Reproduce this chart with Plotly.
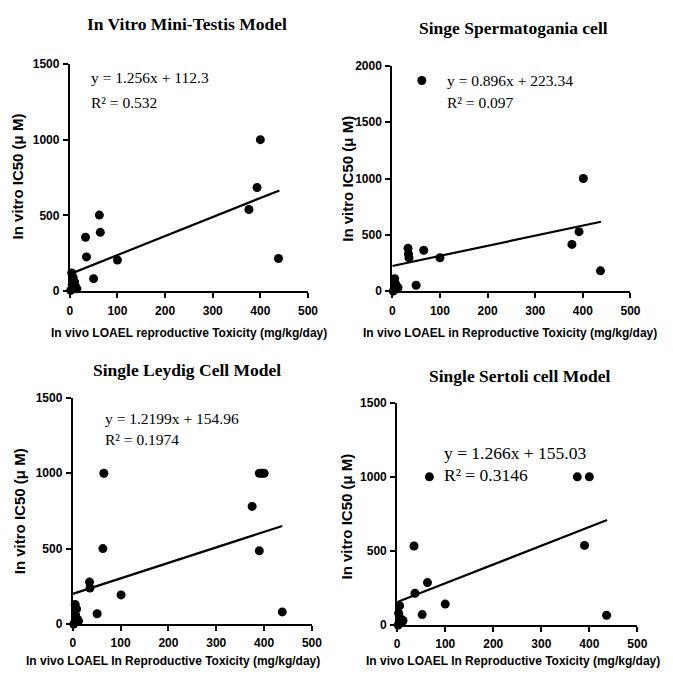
import plotly.graph_objects as go

# the page body has an 8px margin on every side; keep the figure inside the window
OFF = 8
W, H = 673 - 2 * OFF, 686 - 2 * OFF

# ---------------- data ----------------
titles = ["In Vitro Mini-Testis Model", "Singe Spermatogania cell",
          "Single Leydig Cell Model", "Single Sertoli cell Model"]
x_titles = ["In vivo LOAEL reproductive Toxicity (mg/kg/day)",
            "In vivo LOAEL in Reproductive Toxicity (mg/kg/day)",
            "In vivo LOAEL In Reproductive Toxicity (mg/kg/day)",
            "In vivo LOAEL In Reproductive Toxicity (mg/kg/day)"]
y_title = "In vitro IC50 (\u03bc M)"

mt_x = [2, 5, 7, 4, 12, 15, 10, 33, 35, 62, 64, 50, 100, 376, 393, 400, 438]
mt_y = [5, 40, 90, 120, 30, 15, 60, 356, 226, 502, 388, 82, 205, 539, 684, 1000, 215]

sp_x = [2, 5, 8, 10, 12, 6, 33, 34, 35, 66, 100, 50, 62, 377, 392, 401, 437]
sp_y = [0, 110, 50, 20, 30, 70, 380, 330, 295, 363, 296, 52, 1870, 415, 528, 1000, 180]

ley_x = [2, 5, 8, 10, 12, 6, 65, 63, 35, 36, 101, 51, 375, 390, 390, 395, 400, 438]
ley_y = [0, 130, 100, 30, 20, 60, 1000, 500, 278, 239, 193, 68, 780, 485, 1000, 1000, 1000, 80]

ser_x = [2, 5, 3, 8, 10, 12, 67, 375, 400, 35, 63, 37, 100, 52, 390, 436]
ser_y = [0, 130, 80, 40, 20, 30, 1000, 1000, 1000, 533, 286, 214, 141, 70, 537, 66]

trend_x = [[0, 440], [0, 438], [0, 438], [0, 437]]
trend_y = [[112.3, 665], [223.3, 616], [200, 650], [155.0, 708]]

eq_text = ["y = 1.256x + 112.3", "y = 0.896x + 223.34",
           "y = 1.2199x + 154.96", "y = 1.266x + 155.03"]
r2_text = ["R\u00b2 = 0.532", "R\u00b2 = 0.097", "R\u00b2 = 0.1974", "R\u00b2 = 0.3146"]

x_ticks = [0, 100, 200, 300, 400, 500]
y_ticks = [[0, 500, 1000, 1500], [0, 500, 1000, 1500, 2000],
           [0, 500, 1000, 1500], [0, 500, 1000, 1500]]
y_max = [1500, 2000, 1500, 1500]

series = [(mt_x, mt_y), (sp_x, sp_y), (ley_x, ley_y), (ser_x, ser_y)]

# ---------------- layout (pixel boxes in window coordinates) ----------------
boxes = [(68, 311, 58, 290), (397, 640, 60, 290), (71, 315, 399, 630), (402, 647, 404, 631)]
title_pos = [(188, 17), (521, 21), (188, 371), (527, 377)]
xt_pos = [(190, 333), (517, 333), (173, 668), (520, 668)]
yt_pos = [(15, 173), (351, 175), (17, 515), (350, 520)]
eq_pos = [(88, 72), (451, 75), (102, 420), (448, 455)]
r2_pos = [(88, 97), (451, 97), (102, 442), (448, 478)]
eq_size = [15.5, 15.5, 15.5, 17.5]


def fx(p):
    return (p - OFF) / W


def fy(p):
    return 1 - (p - OFF) / H


fig = go.Figure()
ann = []
for i in range(4):
    sx = "" if i == 0 else str(i + 1)
    xa, ya = "x" + sx, "y" + sx
    xs, ys = series[i]
    fig.add_trace(go.Scatter(x=trend_x[i], y=trend_y[i], mode="lines",
                             line=dict(color="black", width=2.2),
                             xaxis=xa, yaxis=ya, showlegend=False, hoverinfo="skip"))
    fig.add_trace(go.Scatter(x=xs, y=ys, mode="markers",
                             marker=dict(color="black", size=9),
                             cliponaxis=False,
                             xaxis=xa, yaxis=ya, showlegend=False))
    l, r, t, b = boxes[i]
    axis_common = dict(showgrid=False, zeroline=False, showline=True, linecolor="black",
                       linewidth=2, ticks="outside", ticklen=5, tickwidth=2,
                       tickcolor="black",
                       tickfont=dict(family="Liberation Sans, Arial", size=12,
                                     color="black", weight="bold"))
    fig.update_layout(**{
        "xaxis" + sx: dict(domain=[fx(l), fx(r)], range=[0, 500], tickvals=x_ticks,
                           anchor=ya, ticklabelstandoff=2, **axis_common),
        "yaxis" + sx: dict(domain=[fy(b), fy(t)], range=[0, y_max[i]],
                           tickvals=y_ticks[i], anchor=xa, ticklabelstandoff=1,
                           **axis_common),
    })
    ann.append(dict(text=titles[i], x=fx(title_pos[i][0]), y=fy(title_pos[i][1]),
                    xref="paper", yref="paper", showarrow=False,
                    xanchor="center", yanchor="middle",
                    font=dict(family="Liberation Serif, Times New Roman", size=17.5,
                              color="black", weight="bold")))
    ann.append(dict(text=x_titles[i], x=fx(xt_pos[i][0]), y=fy(xt_pos[i][1]),
                    xref="paper", yref="paper", showarrow=False,
                    xanchor="center", yanchor="middle",
                    font=dict(family="Liberation Sans, Arial", size=12,
                              color="black", weight="bold")))
    ann.append(dict(text=y_title, x=fx(yt_pos[i][0]), y=fy(yt_pos[i][1]),
                    xref="paper", yref="paper", showarrow=False, textangle=-90,
                    xanchor="center", yanchor="middle",
                    font=dict(family="Liberation Sans, Arial", size=15,
                              color="black", weight="bold")))
    ann.append(dict(text=eq_text[i], x=fx(eq_pos[i][0]), y=fy(eq_pos[i][1]),
                    xref="paper", yref="paper", showarrow=False,
                    xanchor="left", yanchor="middle",
                    font=dict(family="Liberation Serif, Times New Roman",
                              size=eq_size[i], color="black")))
    ann.append(dict(text=r2_text[i], x=fx(r2_pos[i][0]), y=fy(r2_pos[i][1]),
                    xref="paper", yref="paper", showarrow=False,
                    xanchor="left", yanchor="middle",
                    font=dict(family="Liberation Serif, Times New Roman",
                              size=eq_size[i], color="black")))

fig.update_layout(width=W, height=H, margin=dict(l=0, r=0, t=0, b=0),
                  paper_bgcolor="white", plot_bgcolor="white",
                  annotations=ann, showlegend=False)

fig.write_html("out.html")
